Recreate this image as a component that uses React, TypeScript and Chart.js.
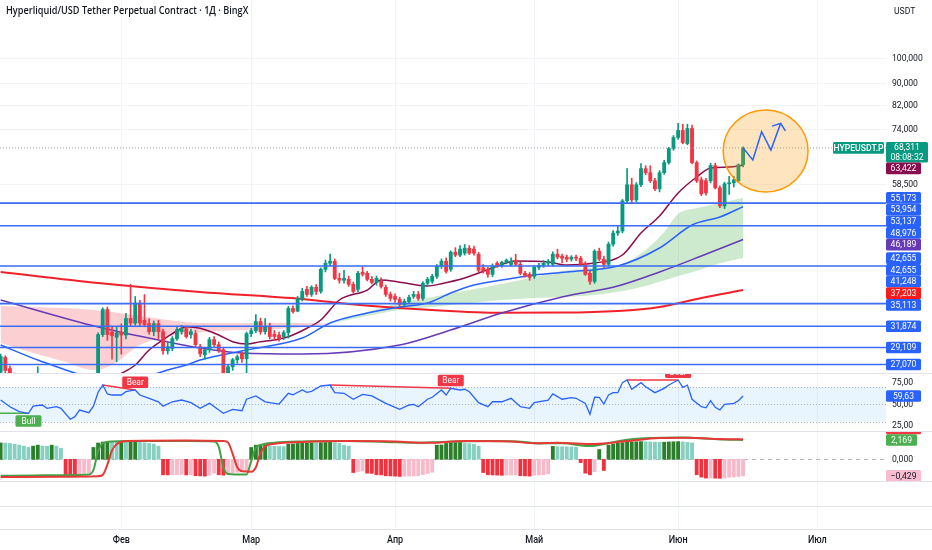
import { useEffect, useRef } from "react";
import { Chart, registerables } from "chart.js";

Chart.register(...registerables);

// ======================= DATA =======================
const chartTitle = "Hyperliquid/USD Tether Perpetual Contract · 1Д · BingX";
const currencyLabel = "USDT";
const symbolLabel = "HYPEUSDT.P";
const countdownLabel = "08:08:32";

// day numbers counted from 1 January (0 = 1 Jan)
const monthStartDays = [31, 59, 90, 120, 151, 181];
const monthNames = ["Фев", "Мар", "Апр", "Май", "Июн", "Июл"];

const firstCandleDay = 5;
const opens = [
  26200, 27900, 26600, 25900, 24700, 24100, 23200, 23900, 24600, 25300,
  24100, 24400, 23900, 22700, 22000, 22500, 22900, 23100, 22200, 22800,
  23500, 23200, 30760, 34240, 31100, 30400, 31100, 30700, 32950, 32300,
  35200, 32700, 32240, 31150, 32240, 31150, 28710, 29000, 30240, 31150,
  31560, 30760, 30890, 29210, 28220, 28830, 30110, 29460, 28830, 25300,
  26800, 27620, 28340, 27740, 30890, 31280, 32520, 31150, 31830, 30800,
  30700, 30500, 31020, 34390, 34000, 35900, 37320, 36520, 37650, 36990,
  40660, 41720, 42080, 39110, 38800, 38950, 38130, 37320, 40150, 39970,
  38950, 38450, 38620, 37650, 36520, 36210, 35750, 34990, 35440, 36210,
  36520, 35900, 38300, 38620, 39450, 41180, 42080, 40660, 43750, 43190,
  43560, 44510, 44320, 43370, 40900, 40660, 39790, 41720, 41350, 41900,
  41500, 42260, 41540, 39970, 39790, 39450, 41010, 41350, 41720, 41540,
  43370, 43000, 42820, 42450, 42820, 42630, 41720, 39970, 38620, 43930,
  42450, 41540, 45270, 47470, 47880, 54470, 58350, 54700, 58350, 62520,
  61440, 59360, 57360, 61440, 64150, 68120, 71420, 73600, 69590, 74200,
  64150, 59600, 59360, 59360, 63330, 57600, 53310, 58600, 58850, 59360, 63560,
];
const highs = [
  28300, 28100, 26900, 26100, 25200, 24900, 24300, 25100, 26800, 25700,
  24800, 25000, 24300, 23400, 22900, 23300, 23600, 23500, 23000, 24000,
  24200, 31000, 34500, 34600, 31800, 31800, 32200, 33700, 38130, 36200,
  35600, 36500, 32900, 32600, 32700, 31500, 29700, 30500, 31800, 32000,
  31900, 31500, 31300, 29500, 28900, 30400, 30500, 29800, 29100, 27000,
  27800, 28200, 28600, 31100, 31600, 33500, 33000, 32950, 32300, 31300,
  31100, 31300, 34700, 34800, 36200, 37500, 37800, 37900, 38100, 40900,
  42300, 43400, 42500, 40000, 40500, 39500, 38500, 40300, 41180, 40300,
  39400, 39500, 39200, 38000, 36900, 36600, 36100, 35800, 36400, 37000,
  37000, 38600, 39300, 39800, 41500, 42500, 42700, 44000, 44600, 45000,
  45200, 45000, 44900, 43700, 41500, 41000, 41600, 42000, 42100, 42500,
  42700, 43370, 41900, 40300, 40100, 41300, 41700, 42200, 42400, 43800,
  44300, 43400, 43200, 43100, 43200, 43000, 42000, 40300, 44200, 44500,
  43000, 45700, 48000, 48900, 54800, 62500, 60000, 58900, 63900, 63300,
  63300, 60000, 62000, 64800, 68500, 72000, 75900, 75600, 75600, 75300,
  64600, 60300, 60000, 64000, 64000, 58100, 59000, 60500, 60500, 63800, 68600,
];
const lows = [
  25900, 25800, 25200, 24300, 23600, 22800, 22600, 23500, 24200, 23800,
  23300, 23700, 22400, 21600, 21400, 22000, 22300, 21900, 21700, 22400,
  22900, 23000, 30500, 30000, 27700, 27400, 28300, 30200, 31900, 32000,
  31900, 31800, 30800, 30600, 30100, 28300, 28300, 28700, 30000, 30800,
  30300, 30300, 29200, 28000, 27700, 28500, 29200, 28500, 24800, 24900,
  26400, 27200, 27300, 25500, 30500, 31000, 30800, 30800, 30200, 30100,
  29900, 30100, 30300, 33700, 33900, 35500, 36200, 36200, 36500, 36700,
  40200, 41300, 38900, 38300, 38300, 37800, 36700, 36900, 39500, 38700,
  38200, 38000, 37500, 36200, 35500, 35300, 34600, 34700, 35100, 35900,
  35600, 35600, 37900, 38300, 39100, 40800, 40000, 40300, 42900, 42900,
  43200, 43300, 43200, 40200, 40000, 39300, 39400, 41000, 41000, 41600,
  41200, 41300, 39700, 39300, 38800, 39100, 40600, 41000, 41300, 41200,
  42500, 41800, 42000, 42100, 42200, 41300, 39600, 38130, 38300, 42200,
  41000, 41200, 44900, 47000, 47500, 54000, 54000, 54200, 57900, 60900,
  58900, 56900, 56600, 61000, 63700, 67600, 70800, 69500, 69200, 63800,
  58900, 55700, 55800, 58800, 57300, 52900, 52700, 56000, 57800, 58900, 63000,
];
const closes = [
  28000, 26400, 25900, 24700, 24100, 23200, 23900, 24600, 25300, 24100,
  24400, 23900, 22700, 22000, 22500, 22900, 23100, 22200, 22800, 23500,
  23200, 30760, 34240, 30760, 30600, 31000, 30700, 32950, 32300, 35200,
  32300, 32100, 31150, 32240, 31150, 28710, 29210, 30240, 31420, 31560,
  30500, 31150, 29460, 28340, 28830, 30110, 29460, 28830, 25300, 26800,
  27620, 27980, 27740, 30890, 31280, 32520, 31150, 31830, 30500, 30500,
  30240, 31020, 34390, 33950, 35900, 36990, 36520, 37650, 36990, 40660,
  41720, 42080, 39110, 38800, 39110, 38130, 36990, 39970, 39790, 38950,
  38450, 39110, 37800, 36520, 35900, 35750, 34990, 35440, 36050, 36520,
  35900, 38300, 38950, 39450, 41180, 42080, 40310, 43750, 43190, 44320,
  44510, 43560, 43560, 40490, 40400, 39790, 41180, 41350, 41900, 42260,
  42080, 41540, 39970, 39620, 39280, 41010, 41350, 41720, 42080, 43370,
  42820, 42630, 42450, 42820, 42630, 41540, 39790, 38620, 43930, 42450,
  41540, 45270, 47470, 47880, 54470, 58350, 54700, 58350, 62520, 61440,
  59360, 57360, 61440, 64150, 68120, 71420, 73600, 69900, 74200, 64150,
  59360, 56130, 56370, 63330, 57600, 53310, 58600, 58850, 59600, 63560, 68311,
];

// moving averages (read at sample days)
const maFastDays = [25, 31, 34, 37, 41, 44, 45, 48, 52, 55, 58, 61, 64, 67, 71, 74, 78, 84, 87, 91, 97, 100, 105, 111, 116, 123, 127, 133, 139, 143, 147, 151, 155, 158, 162, 165];
const maFastValues = [24800, 26070, 27010, 28800, 30480, 31600, 31810, 31600, 30700, 29840, 29550, 29840, 30060, 30480, 31600, 32740, 35660, 37210, 38840, 38480, 37860, 38230, 39170, 40880, 42120, 41940, 41410, 41760, 43220, 47480, 51060, 56330, 60320, 62680, 62950, 63422];
const maMidDays = [5, 13, 21, 26, 30, 34, 41, 45, 48, 58, 70, 76, 84, 91, 97, 102, 107, 113, 120, 127, 138, 147, 154, 160, 165];
const maMidValues = [29420, 27590, 26100, 25200, 24800, 25300, 26440, 27010, 27590, 28800, 30310, 32320, 33730, 34610, 35200, 36740, 38020, 38840, 39680, 40190, 41240, 44530, 49130, 50840, 53137];
const maSlowDays = [5, 26, 39, 48, 57, 70, 91, 102, 113, 126, 138, 147, 156, 165];
const maSlowValues = [35660, 31770, 30060, 29050, 28430, 28310, 29420, 31370, 33730, 36110, 37860, 40190, 43030, 46189];
const maLongDays = [5, 26, 48, 70, 80, 98, 113, 126, 138, 147, 156, 165];
const maLongValues = [40190, 38350, 36900, 35810, 35050, 34170, 33770, 33790, 34020, 34610, 35970, 37203];

// cloud (bearish part, then bullish part)
const bearCloudDays = [5, 12, 19, 25, 29, 35, 41, 48, 55, 63, 70, 76];
const bearCloudTop = [34760, 34610, 34460, 34170, 33880, 33300, 32740, 32320, 32320, 32320, 32320, 32250];
const bearCloudBottom = [29670, 28430, 27360, 26440, 27010, 29420, 30540, 31070, 31340, 31470, 31740, 32250];
const bullCloudDays = [76, 84, 91, 98, 106, 113, 120, 126, 133, 139, 144, 148, 151, 155, 158, 162, 165];
const bullCloudTop = [32250, 33870, 35200, 36110, 37210, 38180, 39340, 40360, 40880, 41590, 44150, 47680, 51500, 52830, 53520, 54440, 55173];
const bullCloudBottom = [32250, 33300, 34170, 34610, 35200, 35660, 35970, 36110, 36420, 37060, 37860, 38750, 39500, 40360, 41240, 42120, 42655];

// horizontal levels
const levelPrices = [53954, 48976, 41248, 35113, 31874, 29109, 27070];
const lastPrice = 68311;

// price axis
const priceTicks = [58500, 74000, 82000, 90000, 100000];
const axisTagValues = [68311, 63422, 55173, 53954, 53137, 48976, 46189, 42655, 42655, 41248, 37203, 35113, 31874, 29109, 27070];

// forecast drawing
const forecastDays = [165, 167.1, 169, 171, 173.1];
const forecastPrices = [68311, 64860, 73200, 67690, 75880];
const highlightDays = [160.7, 179];
const highlightPrices = [56570, 80320];

// RSI pane
const rsiDays = [5, 7, 9, 11, 12, 14, 15, 17, 18, 20, 21, 22, 24, 25, 26, 27, 28, 29, 31, 32, 34, 35, 37, 39, 40, 42, 44, 46, 48, 50, 53, 55, 57, 58, 60, 62, 63, 65, 67, 68, 70, 71, 72, 74, 76, 77, 79, 81, 83, 85, 88, 91, 93, 94, 95, 97, 98, 100, 101, 102, 104, 105, 106, 108, 110, 111, 113, 115, 117, 119, 120, 123, 124, 126, 128, 129, 131, 132, 133, 134, 135, 136, 137, 138, 139, 140, 141, 143, 144, 146, 148, 149, 151, 152, 153, 154, 156, 157, 158, 159, 160, 161, 163, 164, 165];
const rsiValues = [55, 47.3, 41.6, 39.7, 48, 49.3, 45.5, 47.3, 45.5, 32.8, 35.8, 43.5, 40.4, 48, 64, 72.3, 62, 60.8, 60.8, 64.6, 66.6, 60.8, 57, 53, 48, 53, 55, 52, 45.5, 51.2, 39.7, 44.3, 42.7, 55.9, 59.7, 53, 52, 50.4, 62.8, 61, 66.6, 63.9, 65, 71.2, 72.3, 63.5, 62.8, 55.9, 61.6, 59.7, 51.2, 44.3, 49.3, 50, 47.3, 55.9, 58.2, 66.6, 60.8, 68.5, 66.6, 67.4, 64.6, 52, 47.3, 53, 53, 57, 47.3, 45.5, 52, 55, 62, 55.9, 57.7, 57, 51, 38.5, 58.2, 58, 50.4, 60.8, 63.5, 63.5, 75, 78.1, 67.4, 75, 70.4, 63.5, 68.5, 72.3, 78.1, 69.7, 72.3, 55.9, 47.3, 46, 54.2, 46.6, 43.5, 50, 51.2, 54.2, 59.63];
const rsiTicks = [25, 50, 75];
const rsiBandLevels = [30, 50, 70];
const divergenceKinds = ["Bear", "Bear", "Bear", "Bull"];
const divergenceStartDays = [27, 76, 140, 2];
const divergenceStartValues = [72.3, 72.3, 78.1, 39.9];
const divergenceEndDays = [34, 102, 151, 11];
const divergenceEndValues = [66.6, 68.5, 78.1, 39.7];

// momentum pane
const histValues = [
  1.84, 1.83, 1.78, 1.70, 1.59, 1.48, 1.33, 1.48, 1.59, 1.48, 1.46, 1.59, 1.48, 1.22,
  -1.74, -1.76, -1.78, -1.74, -1.56, -1.50,
  1.33, 1.83, 1.94, 1.96, 1.94, 1.92, 1.96, 1.94, 1.97, 1.99, 1.96, 1.85, 1.78, 1.70, 1.48,
  -1.74, -1.76, -1.74, -1.72, -1.70, -1.76, -1.74, -1.85, -1.87, -1.89, -1.78, -1.56, -1.74, -1.78, -1.56, -1.50, -1.45, -1.40, -1.35,
  1.33, 1.59, 1.60, 1.62, 1.48, 1.46, 1.44, 1.42, 1.70, 1.72, 1.78, 1.80, 1.82, 1.85, 1.83, 1.87, 1.89, 1.91, 1.85, 1.78, 1.59, 1.48,
  -1.49, -1.38, -1.32, -1.56, -1.58, -1.74, -1.76, -1.85, -1.87, -1.89, -1.93, -1.91, -1.89, -1.87, -1.85, -1.72, -1.60, -1.45,
  1.59, 1.61, 1.78, 1.85, 1.87, 1.89, 1.78, 1.76, 1.70, 1.48,
  -1.49, -1.74, -1.76, -1.78, -1.80, -1.78, -1.76, -1.74, -1.85, -1.87, -1.89, -1.78, -1.76, -1.74, -1.63,
  1.45, 1.42, 1.41, 1.40, 1.39, 1.36,
  -0.37, -1.56, -1.74, -1.38,
  1.10, -1.26,
  1.59, 1.70, 1.80, 1.87, 1.92, 1.95, 1.97, 1.99, 1.97, 1.95, 1.93, 1.90, 1.92, 1.95, 1.97, 1.99, 1.96, 1.90, 1.84,
  -1.74, -2.00, -2.11, -2.09, -2.12, -2.14, -2.12, -2.02, -2.00, -1.93, -1.86,
];
const signalFastDays = [5, 12, 18, 24, 25, 26, 27, 29, 35, 45, 51, 52, 53, 54, 58, 59, 60, 61, 64, 70, 80, 88, 95, 100, 110, 118, 121, 126, 131, 132, 134, 140, 146, 152, 157, 161, 165];
const signalFastValues = [-1.86, -1.82, -1.78, -1.72, -1.2, 0.9, 1.8, 2.0, 2.05, 2.05, 2.0, 1.4, -0.9, -1.65, -1.72, -0.2, 1.3, 1.6, 1.85, 2.0, 2.05, 1.95, 1.85, 1.95, 2.05, 1.95, 1.78, 1.8, 1.5, 1.48, 1.6, 2.2, 2.4, 2.45, 2.35, 2.22, 2.169];
const signalSlowDays = [5, 18, 26, 27, 28, 29, 30, 32, 45, 53, 54, 55, 56, 57, 59, 60, 61, 62, 64, 70, 80, 90, 97, 105, 115, 120, 125, 133, 140, 147, 153, 160, 165];
const signalSlowValues = [-2.0, -1.95, -1.9, -1.75, -0.6, 1.0, 1.7, 2.05, 2.1, 2.05, 1.9, 0.6, -0.9, -1.35, -1.4, -0.9, 0.7, 1.45, 1.75, 1.95, 2.05, 2.0, 1.85, 2.05, 2.0, 1.8, 1.85, 1.72, 2.05, 2.38, 2.42, 2.28, 2.24];
const oscZeroTick = 0;
const oscExtraTagValue = -0.429;

// ======================= LAYOUT / STYLE =======================
const W = 932;
const PLOT_W = 886;
const AXIS_W = W - PLOT_W;
const X_MIN = 4.86;
const X_MAX = 195.8;
const PRICE_MIN = 25992;
const PRICE_MAX = 128511;
const RSI_MIN = 18.14;
const RSI_MAX = 85.03;
const OSC_MIN = -2.551;
const OSC_MAX = 3.067;

const FONT = "Roboto, 'Noto Sans', sans-serif";
const TEXT = "#131722";
const GRID = "#f0f3fa";
const SEP = "#e0e3eb";
const UP = "#089981";
const DOWN = "#f23645";
const BLUE = "#2962ff";
const TAG_H = 11.7;
const PRICE_TAG_H = 20.5;
const TAG_X = 886;
const TAG_W = 35;
const LABEL_X = 892;
const SX = 0.88;

const axisTagColors = [UP, "#880e4f", BLUE, BLUE, BLUE, BLUE, "#673ab7", BLUE, BLUE, BLUE, "#ff1a1a", BLUE, BLUE, BLUE, BLUE];

// ======================= HELPERS =======================
const fmtPrice = (v: number) => Math.round(v).toLocaleString("en-US");
const fmtDec = (v: number, n: number) => (v < 0 ? "\u2212" : "") + Math.abs(v).toFixed(n).replace(".", ",");

function drawText(ctx: any, s: string, x: number, y: number, font: string, color: string, align: CanvasTextAlign = "left", sx = 1) {
  ctx.save();
  ctx.font = font;
  ctx.fillStyle = color;
  ctx.textAlign = align;
  ctx.textBaseline = "middle";
  ctx.translate(x, y);
  ctx.scale(sx, 1);
  ctx.fillText(s, 0, 0);
  ctx.restore();
}

function drawTag(ctx: any, left: number, top: number, w: number, h: number, bg: string, lines: string[], fg: string, font = `9.8px ${FONT}`) {
  ctx.save();
  ctx.fillStyle = bg;
  ctx.beginPath();
  ctx.roundRect(left, top, w, h, 1.5);
  ctx.fill();
  const lh = h / lines.length;
  lines.forEach((s, i) => drawText(ctx, s, left + w / 2, top + lh * (i + 0.5) + 0.3, font, fg, "center", SX));
  ctx.restore();
}

function drawMonthGrid(chart: any, top: number, bottom: number) {
  const ctx = chart.ctx;
  const xs = chart.scales.x;
  ctx.save();
  ctx.strokeStyle = GRID;
  ctx.lineWidth = 1;
  monthStartDays.forEach((d) => {
    const x = Math.round(xs.getPixelForValue(d)) + 0.5;
    if (x < PLOT_W) {
      ctx.beginPath();
      ctx.moveTo(x, top);
      ctx.lineTo(x, bottom);
      ctx.stroke();
    }
  });
  ctx.restore();
}

function drawSeparator(ctx: any, y: number) {
  ctx.save();
  ctx.fillStyle = SEP;
  ctx.fillRect(0, y, W, 1);
  ctx.restore();
}

function lineDs(days: number[], values: number[], color: string, width: number, order: number, extra: any = {}) {
  return {
    type: "line",
    data: days.map((d, i) => ({ x: d, y: values[i] })),
    borderColor: color,
    borderWidth: width,
    pointRadius: 0,
    cubicInterpolationMode: "monotone",
    fill: false,
    order,
    ...extra,
  };
}

function xScale() {
  return { type: "linear", min: X_MIN, max: X_MAX, display: false, bounds: "data", offset: false, grid: { offset: false } };
}

function rightAxis(extra: any) {
  return {
    position: "right",
    bounds: "data",
    afterFit: (s: any) => {
      s.width = AXIS_W;
    },
    ticks: { display: false },
    grid: { display: false, drawTicks: false },
    border: { display: false },
    ...extra,
  };
}

const baseOptions = {
  responsive: false,
  animation: false,
  events: [],
  layout: { padding: 0 },
  plugins: { legend: { display: false }, tooltip: { enabled: false } },
};

// ======================= MAIN PANE =======================
function mainConfig(): any {
  const idx = opens.map((_, i) => i);
  const candleColors = idx.map((i) => (closes[i] >= opens[i] ? UP : DOWN));
  const datasets: any[] = [
    ...levelPrices.map((v) => lineDs([X_MIN, X_MAX], [v, v], "#3b6cf2", 1.6, -2)),
    lineDs([X_MIN, X_MAX], [lastPrice, lastPrice], "#9598a1", 1, -1, { borderDash: [1, 2] }),
    {
      type: "bar",
      data: idx.map((i) => ({ x: firstCandleDay + i, y: [Math.min(opens[i], closes[i]), Math.max(opens[i], closes[i])] })),
      backgroundColor: candleColors,
      barThickness: 3.2,
      minBarLength: 1,
      grouped: false,
      borderWidth: 0,
      order: 0,
    },
    {
      type: "bar",
      data: idx.map((i) => ({ x: firstCandleDay + i, y: [lows[i], highs[i]] })),
      backgroundColor: candleColors,
      barThickness: 1,
      grouped: false,
      borderWidth: 0,
      order: 1,
    },
    lineDs(maFastDays, maFastValues, "#880e4f", 1.5, 2),
    lineDs(maMidDays, maMidValues, BLUE, 1.5, 3),
    lineDs(maSlowDays, maSlowValues, "#673ab7", 1.5, 4),
    lineDs(maLongDays, maLongValues, "#f0212b", 2, 5),
    lineDs(bearCloudDays, bearCloudTop, "transparent", 1, 10, { fill: "+1", backgroundColor: "rgba(242,54,69,0.24)" }),
    lineDs(bearCloudDays, bearCloudBottom, "transparent", 1, 11),
    lineDs(bullCloudDays, bullCloudTop, "transparent", 1, 12, { fill: "+1", backgroundColor: "rgba(76,175,80,0.28)" }),
    lineDs(bullCloudDays, bullCloudBottom, "transparent", 1, 13),
  ];

  const plugin = {
    id: "mainDecor",
    beforeDatasetsDraw(chart: any) {
      drawMonthGrid(chart, 0, chart.height);
    },
    afterDatasetsDraw(chart: any) {
      const ctx = chart.ctx;
      const xs = chart.scales.x;
      const ys = chart.scales.y;
      const a = chart.chartArea;
      ctx.save();
      ctx.beginPath();
      ctx.rect(a.left, a.top, a.right - a.left, a.bottom - a.top);
      ctx.clip();
      // highlight ellipse
      const x1 = xs.getPixelForValue(highlightDays[0]);
      const x2 = xs.getPixelForValue(highlightDays[1]);
      const y1 = ys.getPixelForValue(highlightPrices[1]);
      const y2 = ys.getPixelForValue(highlightPrices[0]);
      ctx.beginPath();
      ctx.ellipse((x1 + x2) / 2, (y1 + y2) / 2, (x2 - x1) / 2, (y2 - y1) / 2, 0, 0, Math.PI * 2);
      ctx.fillStyle = "rgba(255,152,0,0.25)";
      ctx.fill();
      ctx.strokeStyle = "#ff9800";
      ctx.lineWidth = 1.5;
      ctx.stroke();
      // forecast path
      const pts = forecastDays.map((d, i) => [xs.getPixelForValue(d), ys.getPixelForValue(forecastPrices[i])]);
      ctx.strokeStyle = BLUE;
      ctx.lineWidth = 1.5;
      ctx.lineJoin = "miter";
      ctx.beginPath();
      pts.forEach(([x, y], i) => (i ? ctx.lineTo(x, y) : ctx.moveTo(x, y)));
      ctx.stroke();
      const [xa, ya] = pts[pts.length - 2];
      const [xb, yb] = pts[pts.length - 1];
      const ang = Math.atan2(yb - ya, xb - xa);
      const L = 9;
      const sp = 0.9;
      ctx.beginPath();
      ctx.moveTo(xb - L * Math.cos(ang - sp), yb - L * Math.sin(ang - sp));
      ctx.lineTo(xb, yb);
      ctx.lineTo(xb - L * Math.cos(ang + sp), yb - L * Math.sin(ang + sp));
      ctx.stroke();
      ctx.restore();
    },
    afterDraw(chart: any) {
      const ctx = chart.ctx;
      const ys = chart.scales.y;
      drawText(ctx, chartTitle, 6, 11.5, `600 10.5px 'Open Sans', ${FONT}`, TEXT, "left", 0.87);
      drawText(ctx, currencyLabel, 894, 11.5, `9.8px ${FONT}`, TEXT, "left", SX);
      priceTicks.forEach((v) => drawText(ctx, fmtPrice(v), LABEL_X, ys.getPixelForValue(v), `9.8px ${FONT}`, TEXT, "left", SX));
      const tags = axisTagValues.map((v, i) => ({ v, i, y: ys.getPixelForValue(v), h: i === 0 ? PRICE_TAG_H : TAG_H, top: 0 }));
      tags.sort((p, q) => p.y - q.y);
      let bottom = -1e9;
      tags.forEach((t) => {
        t.top = Math.max(t.y - TAG_H / 2, bottom);
        bottom = t.top + t.h;
      });
      tags.forEach((t) => {
        if (t.i === 0) {
          drawTag(ctx, TAG_X, t.top, 42, t.h, axisTagColors[0], [fmtPrice(t.v), countdownLabel], "#ffffff");
          drawTag(ctx, 833, t.top, 51, TAG_H, axisTagColors[0], [symbolLabel], "#ffffff", `500 9.8px ${FONT}`);
        } else {
          drawTag(ctx, TAG_X, t.top, TAG_W, t.h, axisTagColors[t.i], [fmtPrice(t.v)], "#ffffff");
        }
      });
      drawSeparator(ctx, chart.height - 1);
    },
  };

  return {
    type: "bar",
    data: { datasets },
    options: {
      ...baseOptions,
      scales: {
        x: xScale(),
        y: rightAxis({
          type: "logarithmic",
          min: PRICE_MIN,
          max: PRICE_MAX,
          afterBuildTicks: (s: any) => {
            s.ticks = priceTicks.map((v) => ({ value: v }));
          },
          grid: { display: true, drawTicks: false, color: "#f2f3f7" },
        }),
      },
    },
    plugins: [plugin],
  };
}

// ======================= RSI PANE =======================
function rsiConfig(): any {
  const datasets: any[] = [
    lineDs(rsiDays, rsiValues, BLUE, 1.3, 0, { cubicInterpolationMode: "default", tension: 0 }),
    ...divergenceKinds.map((k, i) =>
      lineDs([divergenceStartDays[i], divergenceEndDays[i]], [divergenceStartValues[i], divergenceEndValues[i]], k === "Bear" ? DOWN : "#4caf50", 1.5, 1)
    ),
  ];
  const plugin = {
    id: "rsiDecor",
    beforeDatasetsDraw(chart: any) {
      const ctx = chart.ctx;
      const ys = chart.scales.y;
      drawMonthGrid(chart, 0, chart.height);
      const top = ys.getPixelForValue(rsiBandLevels[2]);
      const bot = ys.getPixelForValue(rsiBandLevels[0]);
      ctx.save();
      ctx.fillStyle = "rgba(33,150,243,0.1)";
      ctx.fillRect(0, top, PLOT_W, bot - top);
      ctx.strokeStyle = "rgba(120,123,134,0.55)";
      ctx.setLineDash([1, 2]);
      ctx.lineWidth = 1;
      rsiBandLevels.forEach((v) => {
        const y = Math.round(ys.getPixelForValue(v)) + 0.5;
        ctx.beginPath();
        ctx.moveTo(0, y);
        ctx.lineTo(PLOT_W, y);
        ctx.stroke();
      });
      ctx.restore();
    },
    afterDatasetsDraw(chart: any) {
      const ctx = chart.ctx;
      const xs = chart.scales.x;
      const ys = chart.scales.y;
      divergenceKinds.forEach((k, i) => {
        const x = xs.getPixelForValue(divergenceEndDays[i]);
        const y = ys.getPixelForValue(divergenceEndValues[i]);
        const w = 26;
        const h = 11.5;
        const top = k === "Bear" ? y - 2 - h : y + 2;
        drawTag(ctx, x - w / 2, top, w, h, k === "Bear" ? DOWN : "#4caf50", [k], "#ffffff", `9.5px ${FONT}`);
      });
    },
    afterDraw(chart: any) {
      const ctx = chart.ctx;
      const ys = chart.scales.y;
      rsiTicks.forEach((v) => drawText(ctx, fmtDec(v, 2), LABEL_X, ys.getPixelForValue(v), `9.8px ${FONT}`, TEXT, "left", SX));
      const last = rsiValues[rsiValues.length - 1];
      const y = ys.getPixelForValue(last);
      drawTag(ctx, TAG_X, y - TAG_H / 2, TAG_W, TAG_H, BLUE, [fmtDec(last, 2)], "#ffffff");
      drawSeparator(ctx, chart.height - 1);
    },
  };
  return {
    type: "line",
    data: { datasets },
    options: {
      ...baseOptions,
      scales: { x: xScale(), y: rightAxis({ type: "linear", min: RSI_MIN, max: RSI_MAX }) },
    },
    plugins: [plugin],
  };
}

// ======================= MOMENTUM PANE =======================
function oscConfig(): any {
  const histColors = histValues.map((v, i) => {
    const prev = i > 0 ? histValues[i - 1] : v;
    if (v >= 0) return v >= prev ? "#2b7f2b" : "#86cfc1";
    return v <= prev ? "#f0323f" : "#f7bacb";
  });
  const datasets: any[] = [
    lineDs(signalFastDays, signalFastValues, "#43a047", 2, 1),
    lineDs(signalSlowDays, signalSlowValues, "#e53935", 2, 0),
    {
      type: "bar",
      data: histValues.map((v, i) => ({ x: firstCandleDay + i, y: v })),
      backgroundColor: histColors,
      barThickness: 3.2,
      grouped: false,
      borderWidth: 0,
      order: 2,
    },
  ];
  const plugin = {
    id: "oscDecor",
    beforeDatasetsDraw(chart: any) {
      const ctx = chart.ctx;
      const ys = chart.scales.y;
      drawMonthGrid(chart, 0, chart.height);
      const y = Math.round(ys.getPixelForValue(oscZeroTick)) + 0.5;
      ctx.save();
      ctx.strokeStyle = "#b2b5be";
      ctx.setLineDash([4, 4]);
      ctx.lineWidth = 1;
      ctx.beginPath();
      ctx.moveTo(0, y);
      ctx.lineTo(PLOT_W, y);
      ctx.stroke();
      ctx.restore();
    },
    afterDraw(chart: any) {
      const ctx = chart.ctx;
      const ys = chart.scales.y;
      drawText(ctx, fmtDec(oscZeroTick, 3), LABEL_X, ys.getPixelForValue(oscZeroTick), `9.8px ${FONT}`, TEXT, "left", SX);
      const fastLast = signalFastValues[signalFastValues.length - 1];
      const slowLast = signalSlowValues[signalSlowValues.length - 1];
      const histLast = histValues[histValues.length - 1];
      const gTop = ys.getPixelForValue(fastLast) - TAG_H / 2;
      drawTag(ctx, TAG_X, gTop - TAG_H, TAG_W, TAG_H, DOWN, [fmtDec(slowLast, 3)], "#ffffff");
      drawTag(ctx, TAG_X, gTop, TAG_W - 4, TAG_H, "#4caf50", [fmtDec(fastLast, 3)], "#ffffff");
      drawTag(ctx, TAG_X, ys.getPixelForValue(histLast) - TAG_H / 2, TAG_W, TAG_H, "#f8bbd0", [fmtDec(oscExtraTagValue, 3)], TEXT);
      drawSeparator(ctx, chart.height - 1);
    },
  };
  return {
    type: "bar",
    data: { datasets },
    options: {
      ...baseOptions,
      scales: { x: xScale(), y: rightAxis({ type: "linear", min: OSC_MIN, max: OSC_MAX }) },
    },
    plugins: [plugin],
  };
}

// ======================= TIME AXIS + EMPTY PANES =======================
function axisConfig(): any {
  const plugin = {
    id: "timeAxis",
    afterDraw(chart: any) {
      const ctx = chart.ctx;
      const xs = chart.scales.x;
      drawMonthGrid(chart, 0, 47);
      drawSeparator(ctx, 24);
      drawSeparator(ctx, 47);
      monthStartDays.forEach((d, i) => {
        const x = xs.getPixelForValue(d);
        drawText(ctx, monthNames[i], x, 58, `500 10.5px ${FONT}`, TEXT, "center", 0.86);
      });
    },
  };
  return {
    type: "line",
    data: { datasets: [] },
    options: {
      ...baseOptions,
      scales: { x: xScale(), y: rightAxis({ type: "linear", min: 0, max: 1 }) },
    },
    plugins: [plugin],
  };
}

export default function App() {
  const mainRef = useRef<HTMLCanvasElement>(null);
  const rsiRef = useRef<HTMLCanvasElement>(null);
  const oscRef = useRef<HTMLCanvasElement>(null);
  const axisRef = useRef<HTMLCanvasElement>(null);

  useEffect(() => {
    const charts = [
      new Chart(mainRef.current as any, mainConfig()),
      new Chart(rsiRef.current as any, rsiConfig()),
      new Chart(oscRef.current as any, oscConfig()),
      new Chart(axisRef.current as any, axisConfig()),
    ];
    return () => charts.forEach((c) => c.destroy());
  }, []);

  const abs = (top: number): any => ({ position: "absolute", left: 0, top });
  return (
    <div style={{ position: "fixed", left: 0, top: 0, width: W, height: 550, background: "#ffffff", overflow: "hidden" }}>
      <canvas ref={mainRef} width={W} height={374} style={abs(0)} />
      <canvas ref={rsiRef} width={W} height={58} style={abs(374)} />
      <canvas ref={oscRef} width={W} height={50} style={abs(432)} />
      <canvas ref={axisRef} width={W} height={68} style={abs(482)} />
    </div>
  );
}
